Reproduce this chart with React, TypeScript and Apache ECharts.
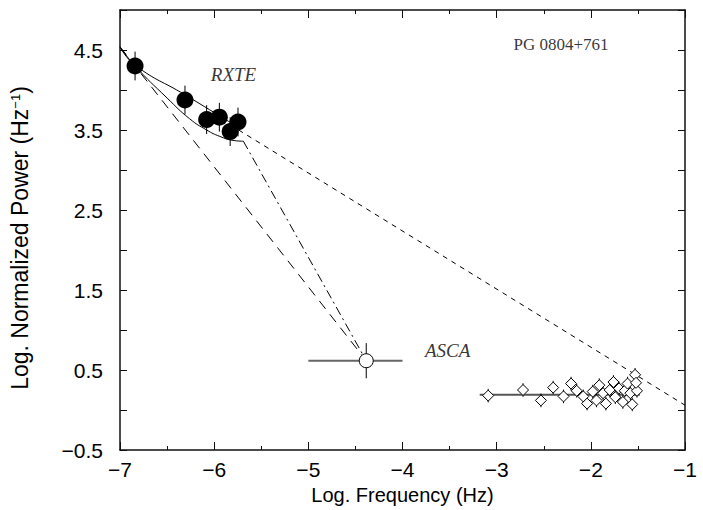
import React, { useEffect, useRef } from 'react';
import * as echarts from 'echarts';

// RXTE points (filled circles)
const rxteX = [-6.84, -6.31, -6.08, -5.945, -5.83, -5.747];
const rxteY = [4.30, 3.875, 3.63, 3.66, 3.48, 3.60];
const rxteErr = [0.18, 0.18, 0.18, 0.18, 0.18, 0.18];

// ASCA point (open circle)
const ascaX = [-4.385];
const ascaY = [0.616];
const ascaXLo = [-5.0];
const ascaXHi = [-4.0];
const ascaYErr = [0.22];

// high-frequency points (diamonds)
const diaX = [-3.09, -2.72, -2.53, -2.40, -2.29, -2.21, -2.15, -2.08, -2.04, -1.98, -1.94, -1.91, -1.87,
  -1.84, -1.80, -1.76, -1.74, -1.70, -1.66, -1.64, -1.61, -1.58, -1.56, -1.53, -1.51, -1.52];
const diaY = [0.18, 0.25, 0.12, 0.28, 0.17, 0.33, 0.24, 0.17, 0.08, 0.23, 0.12, 0.31, 0.21,
  0.08, 0.25, 0.35, 0.16, 0.27, 0.10, 0.24, 0.33, 0.21, 0.07, 0.44, 0.24, 0.34];
const diaErr = 0.085;
const diaLineX = [-3.18, -1.48];
const diaLineY = [0.19, 0.19];

// model lines
const upperSolidX = [-7.0, -6.84, -6.31, -5.74];
const upperSolidY = [4.54, 4.31, 3.94, 3.53];
const lowerSolidX = [-7.0, -6.84, -6.5, -6.26, -6.08, -5.94, -5.80, -5.69];
const lowerSolidY = [4.54, 4.30, 3.90, 3.64, 3.50, 3.42, 3.37, 3.36];
const longDashX = [-7.0, -4.385];
const longDashY = [4.54, 0.616];
const dashDotX = [-5.69, -4.385];
const dashDotY = [3.36, 0.616];
const shortDashX = [-5.74, -1.0];
const shortDashY = [3.50, 0.06];

// annotations
const labelText = ['RXTE', 'ASCA', 'PG 0804+761'];
const labelX = [-5.795, -3.52, -2.317];
const labelY = [4.19, 0.74, 4.575];

// axes
const xMin = -7, xMax = -1, xStep = 1;
const yMin = -0.5, yMax = 5.0, yStep = 0.5;

const pairs = (xs: number[], ys: number[]) => xs.map((x, i) => [x, ys[i]]);
const fmtMinus = (v: number, d: number) => (v < 0 ? '\u2212' + Math.abs(v).toFixed(d) : v.toFixed(d));

export default function App() {
  const ref = useRef<HTMLDivElement>(null);
  useEffect(() => {
    if (!ref.current) return;
    const chart = echarts.init(ref.current, null, { renderer: 'svg' });
    const sans = 'Liberation Sans, Arial, sans-serif';
    const serif = 'Liberation Serif, Times New Roman, serif';
    const axisLine = { show: true, onZero: false, lineStyle: { color: '#111', width: 1.5 } };
    const lineSeries = (xs: number[], ys: number[], type: any, smooth = false) => ({
      type: 'line',
      data: pairs(xs, ys),
      showSymbol: false,
      symbol: 'none',
      smooth,
      lineStyle: { color: '#000', width: 1, type },
      z: 2,
      silent: true,
    });
    const vErr = (data: number[][], color: string, width: number) => ({
      type: 'custom',
      data,
      z: 3,
      silent: true,
      renderItem: (_p: any, api: any) => {
        const a = api.coord([api.value(0), api.value(1)]);
        const b = api.coord([api.value(0), api.value(2)]);
        return { type: 'line', shape: { x1: a[0], y1: a[1], x2: b[0], y2: b[1] }, style: { stroke: color, lineWidth: width } };
      },
    });
    const hErr = (data: number[][], color: string, width: number) => ({
      type: 'custom',
      data,
      z: 3,
      silent: true,
      renderItem: (_p: any, api: any) => {
        const a = api.coord([api.value(0), api.value(2)]);
        const b = api.coord([api.value(1), api.value(2)]);
        return { type: 'line', shape: { x1: a[0], y1: a[1], x2: b[0], y2: b[1] }, style: { stroke: color, lineWidth: width } };
      },
    });
    const tick = (len: number) => ({ show: true, inside: true, length: len, lineStyle: { color: '#111', width: 1 } });

    chart.setOption({
      animation: false,
      grid: { left: 120, right: 18, top: 10, bottom: 60, outerBoundsMode: 'none' } as any,
      xAxis: [
        {
          type: 'value', min: xMin, max: xMax, interval: xStep, position: 'bottom',
          axisLine, splitLine: { show: false },
          axisTick: tick(8),
          minorTick: { show: true, splitNumber: 2, length: 4, lineStyle: { color: '#111', width: 1 } },
          axisLabel: { formatter: (v: number) => fmtMinus(v, 0), fontFamily: sans, fontSize: 21, color: '#000', margin: 9, showMinLabel: true, showMaxLabel: true },
          name: 'Log. Frequency (Hz)', nameLocation: 'middle', nameGap: 32,
          nameTextStyle: { fontFamily: sans, fontSize: 20, color: '#000' },
        },
        {
          type: 'value', min: xMin, max: xMax, interval: xStep, position: 'top',
          axisLine, splitLine: { show: false },
          axisTick: tick(8),
          minorTick: { show: true, splitNumber: 2, length: 4, lineStyle: { color: '#111', width: 1 } },
          axisLabel: { show: false },
        },
      ],
      yAxis: [
        {
          type: 'value', min: yMin, max: yMax, interval: yStep, position: 'left',
          axisLine, splitLine: { show: false },
          axisTick: tick(7),
          axisLabel: {
            formatter: (v: number) => (Math.abs(((v + 0.5) % 1)) < 1e-6 && v < yMax - 1e-6 ? fmtMinus(v, 1) : ''),
            fontFamily: sans, fontSize: 21, color: '#000', margin: 17, showMinLabel: true,
          },
        },
        {
          type: 'value', min: yMin, max: yMax, interval: yStep, position: 'right',
          axisLine, splitLine: { show: false },
          axisTick: tick(7),
          axisLabel: { show: false },
        },
      ],
      graphic: [
        {
          type: 'text', x: 20, y: 238, rotation: Math.PI / 2,
          style: {
            text: 'Log. Normalized Power (Hz{sup|\u22121})',
            font: '23px Liberation Sans, Arial, sans-serif',
            fill: '#000', align: 'center', verticalAlign: 'middle',
            rich: { sup: { fontSize: 13, fontFamily: sans, fill: '#000', verticalAlign: 'top', padding: [0, 0, 10, 0] } },
          },
        },
      ],
      series: [
        lineSeries(upperSolidX, upperSolidY, 'solid', true),
        lineSeries(lowerSolidX, lowerSolidY, 'solid', true),
        lineSeries(longDashX, longDashY, [10, 7]),
        lineSeries(dashDotX, dashDotY, [9, 4, 2, 4]),
        lineSeries(shortDashX, shortDashY, [5, 5]),
        { ...lineSeries(diaLineX, diaLineY, 'solid'), lineStyle: { color: '#555', width: 2, type: 'solid' } },
        vErr(rxteX.map((x, i) => [x, rxteY[i] - rxteErr[i], rxteY[i] + rxteErr[i]]), '#000', 1),
        hErr(ascaX.map((x, i) => [ascaXLo[i], ascaXHi[i], ascaY[i]]), '#666', 2),
        vErr(ascaX.map((x, i) => [x, ascaY[i] - ascaYErr[i], ascaY[i] + ascaYErr[i]]), '#000', 1),
        vErr(diaX.map((x, i) => [x, diaY[i] - diaErr, diaY[i] + diaErr]), '#000', 1),
        {
          type: 'scatter', data: pairs(rxteX, rxteY), symbol: 'circle', symbolSize: 17,
          itemStyle: { color: '#000', borderColor: '#000', borderWidth: 0, opacity: 1 }, z: 5, silent: true,
        },
        {
          type: 'scatter', data: pairs(ascaX, ascaY), symbol: 'circle', symbolSize: 14,
          itemStyle: { color: '#fff', borderColor: '#000', borderWidth: 1, opacity: 1 }, z: 5, silent: true,
        },
        {
          type: 'scatter', data: pairs(diaX, diaY), symbol: 'diamond', symbolSize: 11,
          itemStyle: { color: '#fff', borderColor: '#000', borderWidth: 1, opacity: 1 }, z: 5, silent: true,
        },
        {
          type: 'scatter', silent: true, z: 6,
          data: labelText.map((t, i) => ({
            name: t, value: [labelX[i], labelY[i]],
            label: i < 2 ? { fontStyle: 'italic', fontSize: 19 } : { fontStyle: 'normal', fontSize: 17 },
          })),
          symbol: 'circle', symbolSize: 1, itemStyle: { color: 'rgba(0,0,0,0)' },
          label: {
            show: true, position: 'inside', formatter: (p: any) => p.name, color: '#000',
            fontFamily: serif,
          },
        },
      ],
    } as any);

    return () => chart.dispose();
  }, []);
  return <div ref={ref} style={{ position: 'fixed', left: 0, top: 0, width: 703, height: 510, background: '#fff' }} />;
}
